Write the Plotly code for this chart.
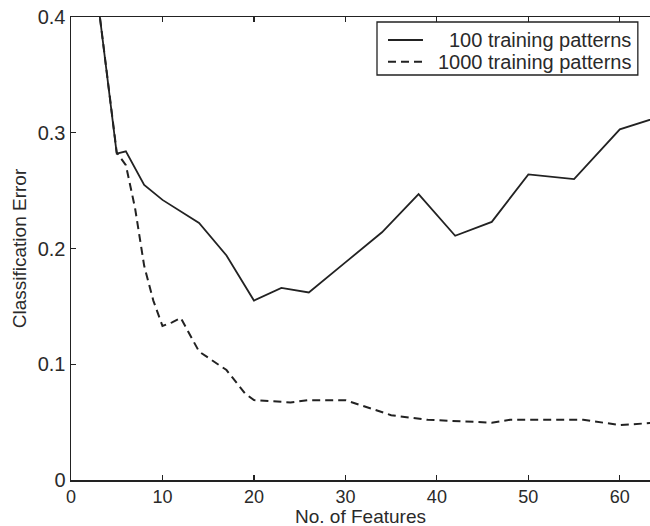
import plotly.graph_objects as go

# Data
features_100 = [3, 5, 6, 8, 10, 12, 14, 17, 20, 23, 26, 30, 34, 38, 42, 46, 50, 55, 60, 64]
error_100 = [0.41, 0.282, 0.284, 0.255, 0.242, 0.232, 0.222, 0.194, 0.155, 0.166, 0.162,
             0.188, 0.214, 0.247, 0.211, 0.223, 0.264, 0.260, 0.303, 0.313]

features_1000 = [3, 5, 6, 7, 8, 9, 10, 11, 12, 14, 17, 19, 20, 24, 26, 30, 35, 39, 46, 48, 56, 60, 64]
error_1000 = [0.41, 0.283, 0.272, 0.235, 0.185, 0.155, 0.133, 0.136, 0.140, 0.111, 0.095,
              0.075, 0.069, 0.067, 0.069, 0.069, 0.056, 0.052, 0.0495, 0.052, 0.052, 0.0475, 0.0495]

series_names = ["100 training patterns", "1000 training patterns"]
x_ticks = [0, 10, 20, 30, 40, 50, 60]
y_ticks = [0, 0.1, 0.2, 0.3, 0.4]
y_tick_labels = ["0", "0.1", "0.2", "0.3", "0.4"]
x_title = "No. of Features"
y_title = "Classification Error"

FONT = "Liberation Sans, Arial, sans-serif"
INK = "#222222"
TXT = "#2a2a2a"
DASH = "8px,5px"

fig = go.Figure()
fig.add_trace(go.Scatter(
    x=features_100, y=error_100, mode="lines", name=series_names[0],
    line=dict(color=INK, width=1.8, dash="solid"), showlegend=False, hoverinfo="skip",
))
fig.add_trace(go.Scatter(
    x=features_1000, y=error_1000, mode="lines", name=series_names[1],
    line=dict(color=INK, width=2.0, dash=DASH), showlegend=False, hoverinfo="skip",
))

# Legend box drawn in paper coordinates (layout only)
shapes = [
    dict(type="rect", xref="paper", yref="paper", x0=0.5285, x1=0.979, y0=0.8747, y1=0.9892,
         line=dict(color=INK, width=1.3), fillcolor="white", layer="above"),
    dict(type="line", xref="paper", yref="paper", x0=0.5475, x1=0.6079, y0=0.9503, y1=0.9503,
         line=dict(color=INK, width=1.8), layer="above"),
    dict(type="line", xref="paper", yref="paper", x0=0.5475, x1=0.6079, y0=0.9035, y1=0.9035,
         line=dict(color=INK, width=2.0, dash=DASH), layer="above"),
]
annotations = [
    dict(xref="paper", yref="paper", x=0.9706, y=0.9503, xanchor="right", yanchor="middle",
         text=series_names[0], showarrow=False, font=dict(family=FONT, size=20, color=TXT)),
    dict(xref="paper", yref="paper", x=0.9706, y=0.9035, xanchor="right", yanchor="middle",
         text=series_names[1], showarrow=False, font=dict(family=FONT, size=20, color=TXT)),
    dict(xref="paper", yref="paper", x=0.5, y=-0.0778, xanchor="center", yanchor="middle",
         text=x_title, showarrow=False, font=dict(family=FONT, size=19, color=TXT)),
]

fig.update_layout(
    width=650, height=526,
    margin=dict(l=71, r=0, t=17, b=46, autoexpand=False),
    paper_bgcolor="white", plot_bgcolor="white",
    font=dict(family=FONT, size=20, color=TXT),
    showlegend=False, hovermode=False,
    shapes=shapes, annotations=annotations,
    xaxis=dict(
        range=[0, 63.3], tickvals=x_ticks, ticks="inside", ticklen=5,
        tickcolor=INK, tickwidth=1.2, automargin=False,
        showline=True, linecolor=INK, linewidth=1.5, mirror="ticks",
        showgrid=False, zeroline=False,
        tickfont=dict(size=18),
    ),
    yaxis=dict(
        range=[0, 0.4], tickvals=y_ticks, ticktext=y_tick_labels,
        ticks="inside", ticklen=5, tickcolor=INK, tickwidth=1.2, automargin=False,
        showline=True, linecolor=INK, linewidth=1.5,
        showgrid=False, zeroline=False,
        title=dict(text=y_title, standoff=6, font=dict(size=19)),
        tickfont=dict(size=20),
    ),
)

fig.write_html(
    "out.html",
    config={"displayModeBar": False, "staticPlot": True},
    post_script="document.body.style.margin='0';document.body.style.overflow='hidden';",
)
